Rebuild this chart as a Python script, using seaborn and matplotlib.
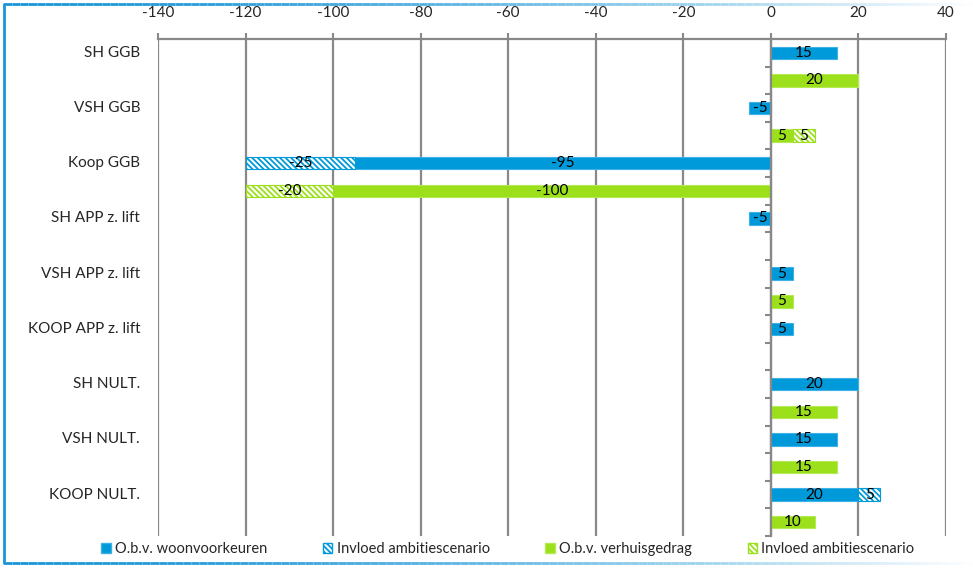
import numpy as np
import pandas as pd
import matplotlib
matplotlib.use("Agg")
import matplotlib.pyplot as plt
import seaborn as sns
from matplotlib.collections import LineCollection
from matplotlib.transforms import blended_transform_factory
from matplotlib.patches import Patch

# ---------------- data ----------------
categories = ["SH GGB", "VSH GGB", "Koop GGB", "SH APP z. lift", "VSH APP z. lift",
              "KOOP APP z. lift", "SH NULT.", "VSH NULT.", "KOOP NULT."]
woon_base = [15, -5, -95, -5, 5, 5, 20, 15, 20]        # O.b.v. woonvoorkeuren
woon_ambitie = [0, 0, -25, 0, 0, 0, 0, 0, 5]           # Invloed ambitiescenario
verhuis_base = [20, 5, -100, None, 5, None, 15, 15, 10]  # O.b.v. verhuisgedrag
verhuis_ambitie = [0, 5, -20, 0, 0, 0, 0, 0, 0]        # Invloed ambitiescenario
x_ticks = [-140, -120, -100, -80, -60, -40, -20, 0, 20, 40]
legend_labels = ["O.b.v. woonvoorkeuren", "Invloed ambitiescenario",
                 "O.b.v. verhuisgedrag", "Invloed ambitiescenario"]

BLUE = "#0099D9"
BLUE_E = "#3DB1E6"
GREEN = "#9BE01A"
GREEN_E = "#B6EA55"
GRID = "#888888"
HATCH = "\\\\\\\\\\\\"

rows = []
for i in range(len(categories)):
    rows.append({"row": 2 * i, "value": woon_base[i], "kind": "woon"})
    if verhuis_base[i] is not None:
        rows.append({"row": 2 * i + 1, "value": verhuis_base[i], "kind": "verhuis"})
df = pd.DataFrame(rows)

sns.set_theme(style="white")
plt.rcParams["font.family"] = ["Lato", "DejaVu Sans"]
plt.rcParams["hatch.linewidth"] = 1.3

fig = plt.figure(figsize=(9.73, 5.73), dpi=100)
ax = fig.add_axes([158 / 973, 1 - 536 / 573, (946 - 158) / 973, (536 - 39) / 573])

sns.barplot(data=df, x="value", y="row", hue="kind", order=list(range(18)),
            hue_order=["woon", "verhuis"], palette={"woon": BLUE, "verhuis": GREEN},
            orient="h", dodge=False, width=0.45, legend=False, ax=ax,
            saturation=1, edgecolor=None, linewidth=0)
for c, ec in zip(ax.containers, [BLUE_E, GREEN_E]):
    for b in c:
        b.set_edgecolor(ec)
        b.set_linewidth(0.8)

# hatched ambition segments
hrows, hvals, hleft, hcols = [], [], [], []
for i in range(len(categories)):
    if woon_ambitie[i]:
        hrows.append(2 * i); hvals.append(woon_ambitie[i]); hleft.append(woon_base[i]); hcols.append(BLUE)
    if verhuis_ambitie[i]:
        hrows.append(2 * i + 1); hvals.append(verhuis_ambitie[i]); hleft.append(verhuis_base[i]); hcols.append(GREEN)
hb = ax.barh(hrows, hvals, left=hleft, height=0.45, color="white",
             edgecolor=hcols, hatch=HATCH, linewidth=0.8)

for c in ax.containers:
    labs = []
    for b in c:
        w = b.get_width()
        labs.append("" if (w == 0 or np.isnan(w)) else f"{int(round(w))}")
    ax.bar_label(c, labels=labs, label_type="center", fontsize=11, color="black")

ax.set_xlim(-140, 40)
ax.set_ylim(17.5, -0.5)
ax.set_xticks(x_ticks)
ax.set_xticklabels([str(t) for t in x_ticks])
ax.xaxis.tick_top()
ax.tick_params(axis="x", top=True, bottom=False, length=4, width=1.5, color=GRID,
               labelsize=11, pad=10)
ax.set_xlabel("")
ax.set_ylabel("")
ax.set_yticks([])
ax.grid(axis="x", color=GRID, linewidth=1.6)
ax.set_axisbelow(True)
for s in ["left", "right", "bottom"]:
    ax.spines[s].set_visible(False)
ax.spines["top"].set_color(GRID)
ax.spines["top"].set_linewidth(1.6)

trans = blended_transform_factory(ax.transAxes, ax.transData)
for i, cat in enumerate(categories):
    ax.text(-18 / 788, 2 * i, cat, transform=trans, ha="right", va="center", fontsize=11)

# zero axis with tick marks between rows
ax2 = ax.twinx()
ax2.set_ylim(17.5, -0.5)
ax2.set_xlim(-140, 40)
for s in ["top", "right", "bottom"]:
    ax2.spines[s].set_visible(False)
ax2.spines["left"].set_visible(True)
ax2.spines["left"].set_position(("data", 0))
ax2.spines["left"].set_color(GRID)
ax2.spines["left"].set_linewidth(1.6)
ax2.yaxis.tick_left()
ax2.set_yticks(np.arange(-0.5, 18, 1.0))
ax2.set_yticklabels([])
ax2.tick_params(axis="y", length=4, width=1.5, color=GRID, direction="out")
ax2.grid(False)

handles = [Patch(facecolor=BLUE, edgecolor=BLUE_E),
           Patch(facecolor="white", edgecolor=BLUE, hatch=HATCH),
           Patch(facecolor=GREEN, edgecolor=GREEN_E),
           Patch(facecolor="white", edgecolor=GREEN, hatch=HATCH)]
fig.legend(handles, legend_labels, loc="center", bbox_to_anchor=(508 / 973, 1 - 549 / 573),
           ncol=4, frameon=False, fontsize=10.5, handlelength=0.65, handleheight=0.65,
           handletextpad=0.3, columnspacing=3.8, borderaxespad=0)

# figure border (blue, fading to the right)
bg = fig.add_axes([0, 0, 1, 1], zorder=-5)
bg.set_xlim(0, 973); bg.set_ylim(573, 0); bg.axis("off")
blue_rgb = np.array(matplotlib.colors.to_rgb("#1A96D6"))
xs = np.linspace(4, 972, 120)
segs, cols = [], []
for j in range(len(xs) - 1):
    f = min(1.0, (xs[j] / 973) ** 1.6)
    col = blue_rgb * (1 - f) + np.ones(3) * f
    for yy in (4, 563):
        segs.append([(xs[j], yy), (xs[j + 1], yy)]); cols.append(col)
bg.add_collection(LineCollection(segs, colors=cols, linewidths=2))
bg.plot([4, 4], [4, 563], color="#1A96D6", lw=2)

fig.savefig("out.png", dpi=100)
